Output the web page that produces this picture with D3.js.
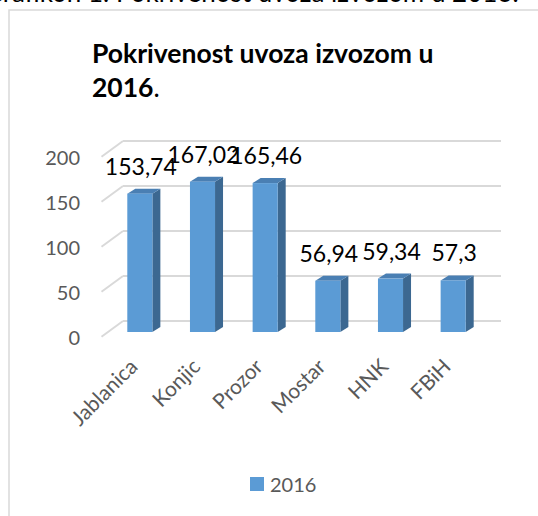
<!DOCTYPE html>
<html>
<head>
<meta charset="utf-8">
<script src="https://cdn.jsdelivr.net/npm/d3@7"></script>
<style>
  body { margin: 0; background: #fff; }
  #chart { width: 538px; height: 516px; }
  text { font-family: Lato, "Open Sans", sans-serif; }
</style>
</head>
<body>
<div id="chart"></div>
<script>
// data
const categories = ["Jablanica", "Konjic", "Prozor", "Mostar", "HNK", "FBiH"];
const values2016 = [153.74, 167.02, 165.46, 56.94, 59.34, 57.3];
const valueLabels = ["153,74", "167,02", "165,46", "56,94", "59,34", "57,3"];
const yTicks = [0, 50, 100, 150, 200];
const seriesName = "2016";

const width = 538, height = 516;
const svg = d3.select("#chart").append("svg")
    .attr("width", width)
    .attr("height", height);

// caption of the document, cut off at the top
svg.append("text")
    .attr("x", -16)
    .attr("y", 2)
    .attr("font-size", 26)
    .attr("fill", "#000")
    .text("Grafikon 1. Pokrivenost uvoza izvozom u 2016.");

// chart frame
svg.append("rect")
    .attr("x", 9).attr("y", 10)
    .attr("width", 560).attr("height", 540)
    .attr("fill", "#fff")
    .attr("stroke", "#d9d9d9")
    .attr("stroke-width", 1.5);

// title
const title = svg.append("text")
    .attr("x", 92)
    .attr("y", 63)
    .attr("font-size", 26.5)
    .attr("font-weight", "bold")
    .attr("fill", "#000");
title.append("tspan").text("Pokrivenost uvoza izvozom u");
const t2 = svg.append("text")
    .attr("x", 92)
    .attr("y", 97)
    .attr("font-size", 26.5)
    .attr("fill", "#000");
t2.append("tspan").attr("font-weight", "bold").text("2016");
t2.append("tspan").text(".");

// 3d geometry
const depth = {dx: 21.5, dy: 15.7};   // side wall depth
const barDepth = {dx: 8, dy: 5};

// scales
const yBack = d3.scaleLinear().domain([0, 200]).range([321, 141]);
const yFront = d3.scaleLinear().domain([0, 200]).range([321 + depth.dy, 141 + depth.dy]);
const yBar = d3.scaleLinear().domain([0, 200]).range([332, 152]);
const xScale = d3.scaleBand()
    .domain(categories)
    .range([108.5, 484.5])
    .paddingInner(0.6)
    .paddingOuter(0.3);

const backLeft = 123, backRight = 501;

// gridlines on back wall + side wall diagonals
const grid = svg.append("g");
yTicks.forEach(function(t) {
    grid.append("line")
        .attr("x1", backLeft).attr("x2", backRight)
        .attr("y1", yBack(t)).attr("y2", yBack(t))
        .attr("stroke", "#d9d9d9").attr("stroke-width", 2);
    grid.append("line")
        .attr("x1", backLeft - depth.dx).attr("x2", backLeft)
        .attr("y1", yFront(t)).attr("y2", yBack(t))
        .attr("stroke", "#d9d9d9").attr("stroke-width", 2);
});

// y axis labels
const yAxis = svg.append("g")
    .attr("transform", "translate(80,1.5)")
    .call(d3.axisLeft(yFront).tickValues(yTicks).tickSize(0).tickPadding(0));
yAxis.select(".domain").remove();
yAxis.selectAll("text")
    .attr("font-family", "Lato, sans-serif")
    .attr("font-size", 20)
    .attr("fill", "#595959");

// bars
const bars = svg.append("g").selectAll("g")
    .data(values2016)
    .enter()
    .append("g");

bars.append("path")  // side
    .attr("d", function(d, i) {
        const x = xScale(categories[i]) + xScale.bandwidth();
        const y0 = yBar(0), y1 = yBar(d);
        return `M${x},${y0} L${x + barDepth.dx},${y0 - barDepth.dy} L${x + barDepth.dx},${y1 - barDepth.dy} L${x},${y1} Z`;
    })
    .attr("fill", "#3c6891");
bars.append("path")  // top
    .attr("d", function(d, i) {
        const x = xScale(categories[i]), w = xScale.bandwidth();
        const y1 = yBar(d);
        return `M${x},${y1} L${x + barDepth.dx},${y1 - barDepth.dy} L${x + w + barDepth.dx},${y1 - barDepth.dy} L${x + w},${y1} Z`;
    })
    .attr("fill", "#4a7fb3");
bars.append("rect")  // front
    .attr("x", function(d, i) { return xScale(categories[i]); })
    .attr("y", function(d) { return yBar(d); })
    .attr("width", xScale.bandwidth())
    .attr("height", function(d) { return yBar(0) - yBar(d); })
    .attr("fill", "#5b9bd5");

// value labels
svg.append("g").selectAll("text")
    .data(values2016)
    .enter()
    .append("text")
    .attr("x", function(d, i) { return xScale(categories[i]) + xScale.bandwidth() / 2 + 1; })
    .attr("y", function(d) { return yBar(d) - 19; })
    .attr("text-anchor", "middle")
    .attr("font-size", 23)
    .attr("fill", "#000")
    .text(function(d, i) { return valueLabels[i]; });

// category labels
svg.append("g").selectAll("text")
    .data(categories)
    .enter()
    .append("text")
    .attr("transform", function(d) {
        const x = xScale(d) + xScale.bandwidth() / 2 - 1;
        return `translate(${x},368) rotate(-45)`;
    })
    .attr("text-anchor", "end")
    .attr("font-size", 21)
    .attr("fill", "#595959")
    .text(function(d) { return d; });

// legend
svg.append("rect")
    .attr("x", 250).attr("y", 477)
    .attr("width", 14).attr("height", 14)
    .attr("fill", "#5b9bd5");
svg.append("text")
    .attr("x", 270).attr("y", 492)
    .attr("font-size", 20)
    .attr("fill", "#595959")
    .text(seriesName);
</script>
</body>
</html>
